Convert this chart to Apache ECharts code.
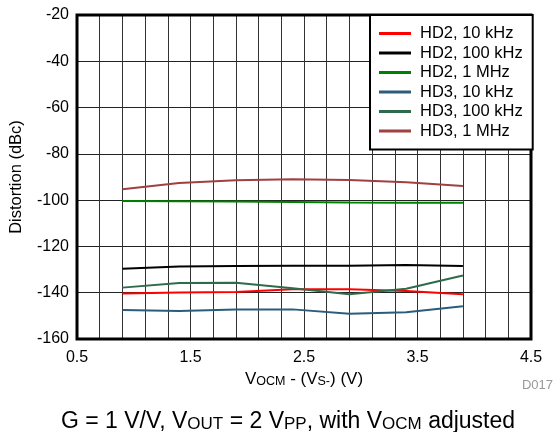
<!DOCTYPE html>
<html>
<head>
<meta charset="utf-8">
<script src="https://cdn.jsdelivr.net/npm/echarts@6/dist/echarts.min.js"></script>
<style>
html,body{margin:0;padding:0;background:#fff;}
#c{width:558px;height:432px;}
</style>
</head>
<body>
<div id="c"></div>
<script>
var xValues = [0.9, 1.4, 1.9, 2.4, 2.9, 3.4, 3.9];
var seriesNames = ['HD2, 10 kHz', 'HD2, 100 kHz', 'HD2, 1 MHz', 'HD3, 10 kHz', 'HD3, 100 kHz', 'HD3, 1 MHz'];
var hd2_10k  = [-140.3, -139.9, -139.7, -138.5, -138.5, -139.3, -140.7];
var hd2_100k = [-129.6, -128.7, -128.5, -128.3, -128.3, -128.0, -128.5];
var hd2_1M   = [-100.4, -100.5, -100.6, -100.8, -101.0, -101.1, -101.1];
var hd3_10k  = [-147.5, -147.9, -147.2, -147.2, -149.1, -148.4, -145.9];
var hd3_100k = [-137.8, -135.8, -135.7, -138.1, -140.7, -138.3, -132.6];
var hd3_1M   = [-95.3, -92.6, -91.4, -91.0, -91.3, -92.3, -93.9];
var xTickLabels = ['0.5', '1.5', '2.5', '3.5', '4.5'];
var colors = ['#ff0000', '#000000', '#008000', '#2a5d7c', '#2e6b4b', '#a04040'];

var allData = [hd2_10k, hd2_100k, hd2_1M, hd3_10k, hd3_100k, hd3_1M];
var FONT = '"Liberation Sans", Arial, sans-serif';

function pairs(arr) {
  return xValues.map(function (x, i) { return [x, arr[i]]; });
}

var series = seriesNames.map(function (name, i) {
  return {
    name: name,
    type: 'line',
    data: pairs(allData[i]),
    showSymbol: false,
    symbol: 'none',
    lineStyle: { color: colors[i], width: 2 },
    itemStyle: { color: colors[i] },
    z: 3
  };
});

var chart = echarts.init(document.getElementById('c'));
chart.setOption({
  animation: false,
  backgroundColor: '#fff',
  textStyle: { fontFamily: FONT },
  grid: {
    left: 75, top: 15, width: 456, height: 324,
    show: true, borderColor: '#000', borderWidth: 3, backgroundColor: 'transparent', z: 4
  },
  legend: {
    orient: 'vertical',
    left: 370, top: 15,
    backgroundColor: '#fff',
    borderColor: '#000', borderWidth: 2,
    padding: [10, 10, 10, 9],
    itemWidth: 32, itemHeight: 3, itemGap: 2.5,
    icon: 'rect',
    textStyle: { fontSize: 16.5, color: '#000', fontFamily: FONT, padding: [0, 0, 0, 4], lineHeight: 15 },
    data: seriesNames,
    z: 10
  },
  xAxis: {
    type: 'value',
    min: 0.5, max: 4.5, interval: 0.2,
    axisLine: { show: false },
    axisTick: { show: false },
    splitLine: { show: true, lineStyle: { color: '#333', width: 1 } },
    axisLabel: {
      fontSize: 16, color: '#000', fontFamily: FONT, margin: 11,
      formatter: function (v) {
        var n = Math.round(v * 10);
        var s = (n / 10).toFixed(1);
        return xTickLabels.indexOf(s) >= 0 ? s : '';
      }
    },
    name: '{m|V}{s|OCM}{m| - (V}{s|S-}{m|) (V)}',
    nameLocation: 'middle',
    nameGap: 29,
    nameTextStyle: {
      rich: {
        m: { fontSize: 17, color: '#000', fontFamily: FONT, verticalAlign: 'bottom', lineHeight: 19 },
        s: { fontSize: 12.5, color: '#000', fontFamily: FONT, verticalAlign: 'bottom', lineHeight: 12 }
      }
    }
  },
  yAxis: {
    type: 'value',
    min: -160, max: -20, interval: 20,
    axisLine: { show: false },
    axisTick: { show: false },
    splitLine: { show: true, lineStyle: { color: '#222', width: 1 } },
    axisLabel: { fontSize: 16, color: '#000', fontFamily: FONT, margin: 8 },
    name: 'Distortion (dBc)',
    nameLocation: 'middle',
    nameGap: 52,
    nameTextStyle: { fontSize: 16.5, color: '#000', fontFamily: FONT }
  },
  title: [
    {
      text: 'D017',
      right: 0, top: 374,
      textStyle: { fontSize: 13, color: '#999', fontWeight: 'normal', fontFamily: FONT }
    },
    {
      text: '{m|G = 1 V/V, V}{s|OUT}{m| = 2 V}{s|PP}{m|, with V}{s|OCM}{m| adjusted}',
      left: 56, top: 403,
      textStyle: {
        fontWeight: 'normal',
        rich: {
          m: { fontSize: 23, color: '#000', fontFamily: FONT, fontWeight: 'normal', verticalAlign: 'bottom', lineHeight: 25 },
          s: { fontSize: 17, color: '#000', fontFamily: FONT, fontWeight: 'normal', verticalAlign: 'bottom', lineHeight: 13 }
        }
      }
    }
  ],
  series: series
});
</script>
</body>
</html>
